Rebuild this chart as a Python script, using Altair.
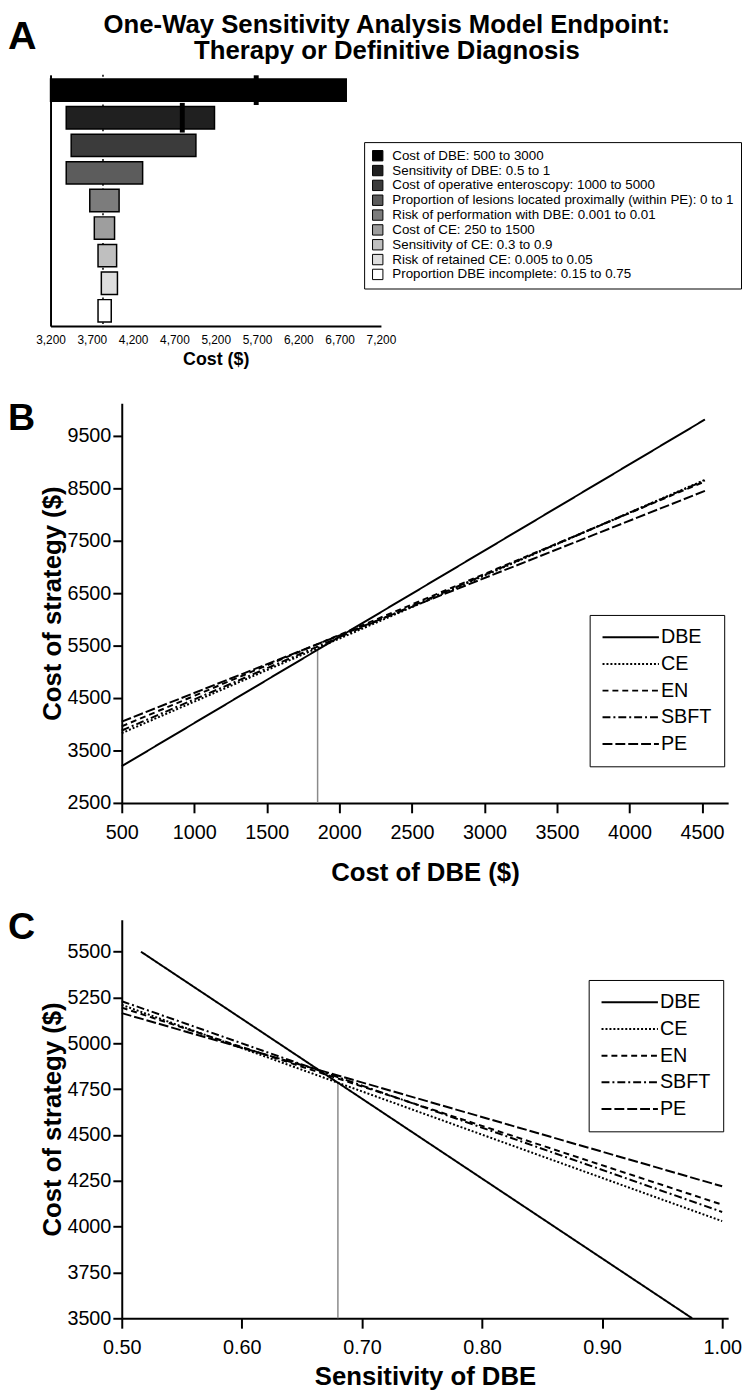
import altair as alt
import pandas as pd

FONT = "Liberation Sans, Arial, Helvetica, sans-serif"

# ---------------- Panel A data (tornado) ----------------
a_params = [
    "Cost of DBE: 500 to 3000",
    "Sensitivity of DBE: 0.5 to 1",
    "Cost of operative enteroscopy: 1000 to 5000",
    "Proportion of lesions located proximally (within PE): 0 to 1",
    "Risk of performation with DBE: 0.001 to 0.01",
    "Cost of CE: 250 to 1500",
    "Sensitivity of CE: 0.3 to 0.9",
    "Risk of retained CE: 0.005 to 0.05",
    "Proportion DBE incomplete: 0.15 to 0.75",
]
a_low = [3200, 3390, 3450, 3390, 3675, 3730, 3775, 3815, 3775]
a_high = [6780, 5185, 4960, 4315, 4030, 3975, 4000, 4010, 3935]
a_greys = ["#000000", "#202020", "#3b3b3b", "#5c5c5c", "#7c7c7c", "#9e9e9e", "#bfbfbf", "#dedede", "#ffffff"]
a_marker_params = a_params[:2]
a_marker_vals = [5690, 4795]
a_base = [3835]
a_ticks = [3200, 3700, 4200, 4700, 5200, 5700, 6200, 6700, 7200]
a_title = "One-Way Sensitivity Analysis Model Endpoint:\nTherapy or Definitive Diagnosis"

# ---------------- Panel B data ----------------
strategies = ["DBE", "CE", "EN", "SBFT", "PE"]
dashes = [[1, 0], [2, 2], [6, 4], [8, 3, 2, 3], [10, 3]]
b_x = [500, 4520]
b_dbe = [3200, 9810]
b_ce = [3830, 8660]
b_en = [3960, 8630]
b_sbft = [3880, 8650]
b_pe = [4050, 8450]
b_thresh_x = [1850]
b_thresh_y = [2500]
b_thresh_y2 = [5420]
b_xticks = [500, 1000, 1500, 2000, 2500, 3000, 3500, 4000, 4500]
b_yticks = [2500, 3500, 4500, 5500, 6500, 7500, 8500, 9500]

# ---------------- Panel C data ----------------
c_x_dbe = [0.516, 0.975]
c_dbe = [5500, 3500]
c_x = [0.50, 1.00]
c_ce = [5210, 4030]
c_en = [5195, 4120]
c_sbft = [5230, 4080]
c_pe = [5165, 4220]
c_thresh_x = [0.68]
c_thresh_y = [3500]
c_thresh_y2 = [4785]
c_xticks = [0.5, 0.6, 0.7, 0.8, 0.9, 1.0]
c_yticks = [3500, 3750, 4000, 4250, 4500, 4750, 5000, 5250, 5500]

W = 613

# ======================= Panel A =======================
dfA = pd.DataFrame({"param": a_params, "low": a_low, "high": a_high})
dfA_mark = pd.DataFrame({"param": a_marker_params, "low": a_marker_vals})
dfA_base = pd.DataFrame({"low": a_base})

xA = alt.X(
    "low:Q",
    scale=alt.Scale(domain=[3200, 7200], range=[-72, 262], nice=False, zero=False),
    axis=alt.Axis(values=a_ticks, format=",d", title="Cost ($)", ticks=False, tickSize=0,
                  labelPadding=9, labelFontSize=12, titleFontSize=18, titlePadding=5,
                  domainWidth=2, labelFlush=False, labelOverlap=False),
)
yA = alt.Y(
    "param:N", sort=a_params,
    scale=alt.Scale(paddingInner=0.19, paddingOuter=0.15),
    axis=alt.Axis(labels=False, ticks=False, title=None, domainWidth=2, offset=72),
)

a_rule = alt.Chart(dfA_base).mark_rule(color="black", strokeWidth=1.5, strokeDash=[2, 3]).encode(x=xA)
a_bars = alt.Chart(dfA).mark_bar(stroke="black", strokeWidth=1.5).encode(
    x=xA, x2="high:Q", y=yA,
    color=alt.Color("param:N", sort=a_params,
                    scale=alt.Scale(domain=a_params, range=a_greys),
                    legend=alt.Legend(title=None, orient="none", legendX=245, legendY=68,
                                      symbolType="square", symbolSize=110,
                                      symbolStrokeColor="black", symbolStrokeWidth=1,
                                      labelFontSize=13.5, labelOffset=8, rowPadding=0,
                                      padding=7, strokeColor="black", labelLimit=0)),
)
a_marks = alt.Chart(dfA_mark).mark_tick(color="black", thickness=5, size=30, opacity=1).encode(x=xA, y=yA)

dfA_t = pd.DataFrame({"t": [a_title]})
dfA_letter = pd.DataFrame({"t": ["A"]})
a_t = alt.Chart(dfA_t).mark_text(font=FONT, fontSize=26, fontWeight="bold", align="center",
                                 baseline="alphabetic", color="black", lineBreak="\n",
                                 lineHeight=26).encode(
    x=alt.value(268), y=alt.value(-42), text="t:N")
a_let = alt.Chart(dfA_letter).mark_text(font=FONT, fontSize=40, fontWeight="bold", align="left",
                                        baseline="alphabetic", color="black").encode(
    x=alt.value(-115), y=alt.value(-26), text="t:N")

panelA = alt.layer(a_rule, a_bars, a_marks, a_t, a_let).properties(width=W, height=254)


# ======================= helpers for B / C =======================
def line_legend(lx, ly):
    # long horizontal line symbol (57 px) while keeping rows compact
    return alt.Legend(title=None, orient="none", legendX=lx, legendY=ly,
                      symbolType="M-3,0H3", symbolSize=361, symbolOffset=19,
                      symbolStrokeWidth=2, symbolStrokeColor="black", symbolFillColor="transparent",
                      labelFontSize=20, labelOffset=20, rowPadding=6, padding=12,
                      strokeColor="black", labelLimit=0)


# ======================= Panel B =======================
b_vals = {"DBE": b_dbe, "CE": b_ce, "EN": b_en, "SBFT": b_sbft, "PE": b_pe}
rowsB = []
for s in strategies:
    for xv, yv in zip(b_x, b_vals[s]):
        rowsB.append({"strategy": s, "x": xv, "y": yv})
dfB = pd.DataFrame(rowsB)
dfB_th = pd.DataFrame({"x": b_thresh_x, "y": b_thresh_y, "y2": b_thresh_y2})

xB = alt.X("x:Q", scale=alt.Scale(domain=[500, 4680], nice=False, zero=False),
           axis=alt.Axis(values=b_xticks, format="d", title="Cost of DBE ($)", tickSize=10,
                         labelPadding=10, titlePadding=17, labelFlush=False, labelOverlap=False))
yB = alt.Y("y:Q", scale=alt.Scale(domain=[2500, 10120], nice=False, zero=False),
           axis=alt.Axis(values=b_yticks, format="d", title="Cost of strategy ($)", tickSize=9,
                         labelPadding=2, titlePadding=1, labelFlush=False, labelOverlap=False))

b_rule = alt.Chart(dfB_th).mark_rule(color="#8a8a8a", strokeWidth=1.5).encode(x=xB, y=yB, y2="y2:Q")
b_lines = alt.Chart(dfB).mark_line(color="black", strokeWidth=2).encode(
    x=xB, y=yB, detail="strategy:N",
    strokeDash=alt.StrokeDash("strategy:N", sort=strategies,
                              scale=alt.Scale(domain=strategies, range=dashes),
                              legend=line_legend(473, 214)),
)
b_let = alt.Chart(pd.DataFrame({"t": ["B"]})).mark_text(
    font=FONT, fontSize=38, fontWeight="bold", align="left", baseline="alphabetic", color="black"
).encode(x=alt.value(-115), y=alt.value(27), text="t:N")

panelB = alt.layer(b_rule, b_lines, b_let).properties(width=W, height=404)

# ======================= Panel C =======================
c_vals = {"CE": c_ce, "EN": c_en, "SBFT": c_sbft, "PE": c_pe}
rowsC = []
for xv, yv in zip(c_x_dbe, c_dbe):
    rowsC.append({"strategy": "DBE", "x": xv, "y": yv})
for s in strategies[1:]:
    for xv, yv in zip(c_x, c_vals[s]):
        rowsC.append({"strategy": s, "x": xv, "y": yv})
dfC = pd.DataFrame(rowsC)
dfC_th = pd.DataFrame({"x": c_thresh_x, "y": c_thresh_y, "y2": c_thresh_y2})

xC = alt.X("x:Q", scale=alt.Scale(domain=[0.5, 1.005], nice=False, zero=False),
           axis=alt.Axis(values=c_xticks, format=".2f", title="Sensitivity of DBE", tickSize=10,
                         labelPadding=10, titlePadding=6, labelFlush=False, labelOverlap=False))
yC = alt.Y("y:Q", scale=alt.Scale(domain=[3500, 5675], range=[443, 40], nice=False, zero=False),
           axis=alt.Axis(values=c_yticks, format="d", title="Cost of strategy ($)", tickSize=9,
                         labelPadding=2, titlePadding=1, labelFlush=False, labelOverlap=False))

c_rule = alt.Chart(dfC_th).mark_rule(color="#8a8a8a", strokeWidth=1.5).encode(x=xC, y=yC, y2="y2:Q")
c_lines = alt.Chart(dfC).mark_line(color="black", strokeWidth=2).encode(
    x=xC, y=yC, detail="strategy:N",
    strokeDash=alt.StrokeDash("strategy:N", sort=strategies,
                              scale=alt.Scale(domain=strategies, range=dashes),
                              legend=line_legend(472, 101)),
)
c_let = alt.Chart(pd.DataFrame({"t": ["C"]})).mark_text(
    font=FONT, fontSize=38, fontWeight="bold", align="left", baseline="alphabetic", color="black"
).encode(x=alt.value(-115), y=alt.value(60), text="t:N")

panelC = alt.layer(c_rule, c_lines, c_let).properties(width=W, height=443)

chart = (
    alt.vconcat(panelA, panelB, panelC, spacing=78, bounds="flush")
    .resolve_scale(strokeDash="independent", color="independent")
    .resolve_legend(strokeDash="independent", color="independent")
    .properties(padding={"left": 0, "top": -3, "right": 0, "bottom": 0})
    .configure_view(stroke=None)
    .configure_axis(labelFont=FONT, titleFont=FONT, labelColor="black", titleColor="black",
                    domainColor="black", tickColor="black", domainWidth=2, tickWidth=2,
                    grid=False, labelFontSize=20, titleFontSize=26, titleFontWeight="bold")
    .configure_legend(labelFont=FONT, labelColor="black")
)

chart.save("out.html", embed_options={"renderer": "svg", "actions": False})
